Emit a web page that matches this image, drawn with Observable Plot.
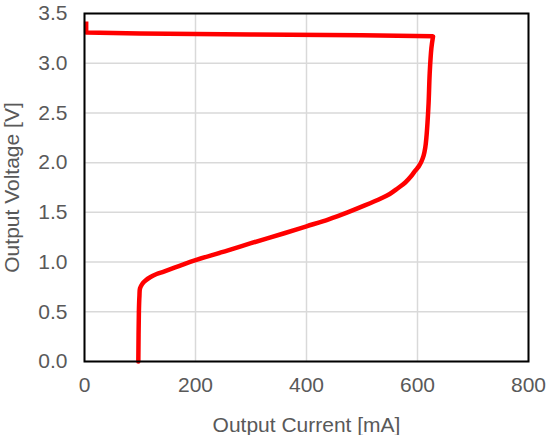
<!DOCTYPE html>
<html>
<head>
<meta charset="utf-8">
<script src="https://cdn.jsdelivr.net/npm/d3@7"></script>
<script src="https://cdn.jsdelivr.net/npm/@observablehq/plot@0.6"></script>
<style>
  html, body { margin: 0; padding: 0; background: #fff; }
</style>
</head>
<body>
<div id="chart"></div>
<script>
// Output current (mA) and output voltage (V) along the curve, in drawing order
const currentMA = [3, 3, 100, 300, 500, 628, 625, 622, 620, 618, 616, 614, 611, 607, 602, 596, 588, 578, 564, 550, 534, 505, 474, 440, 400, 360, 300, 263, 200, 170, 143, 130, 119, 110, 104, 100, 99, 98, 97];
const voltageV  = [3.42, 3.31, 3.30, 3.29, 3.28, 3.27, 3.15, 2.90, 2.60, 2.40, 2.25, 2.15, 2.07, 2.01, 1.96, 1.92, 1.86, 1.80, 1.74, 1.685, 1.64, 1.57, 1.50, 1.43, 1.36, 1.29, 1.19, 1.125, 1.02, 0.96, 0.905, 0.88, 0.85, 0.815, 0.78, 0.735, 0.66, 0.50, 0.00];
const xTicks = [0, 200, 400, 600, 800];
const yTicks = [0, 0.5, 1.0, 1.5, 2.0, 2.5, 3.0, 3.5];

const data = currentMA.map((c, i) => ({current: c, voltage: voltageV[i], i}));
const topPart = data.filter(d => d.i <= 5);   // short stub + nearly flat top run
const restPart = data.filter(d => d.i >= 5);  // smooth descending part

const chart = Plot.plot({
  width: 548,
  height: 435,
  marginLeft: 84,
  marginRight: 20,
  marginTop: 13,
  marginBottom: 74,
  style: {fontFamily: "'Liberation Sans', Arial, sans-serif", fontSize: "21px", color: "#595959", background: "#fff"},
  x: {domain: [0, 800]},
  y: {domain: [0, 3.5]},
  marks: [
    Plot.gridX(xTicks, {stroke: "#d9d9d9", strokeOpacity: 1, strokeWidth: 1.5}),
    Plot.gridY(yTicks, {stroke: "#d9d9d9", strokeOpacity: 1, strokeWidth: 1.5}),
    Plot.axisX(xTicks, {tickSize: 0, tickPadding: 16, tickFormat: d => String(d), label: "Output Current [mA]", labelAnchor: "center", labelArrow: "none", labelOffset: 70, fill: "#595959"}),
    Plot.axisY(yTicks, {tickSize: 0, tickPadding: 17, tickFormat: d => d.toFixed(1), label: "Output Voltage [V]", labelAnchor: "center", labelArrow: "none", labelOffset: 80, fill: "#595959"}),
    Plot.line(topPart, {x: "current", y: "voltage", stroke: "#ff0000", strokeWidth: 4.5, strokeLinejoin: "round", strokeLinecap: "butt", curve: "linear"}),
    Plot.line(restPart, {x: "current", y: "voltage", stroke: "#ff0000", strokeWidth: 4.5, strokeLinejoin: "round", strokeLinecap: "round", curve: "catmull-rom"}),
    Plot.frame({stroke: "#000", strokeWidth: 2})
  ]
});
document.getElementById("chart").appendChild(chart);
</script>
</body>
</html>
